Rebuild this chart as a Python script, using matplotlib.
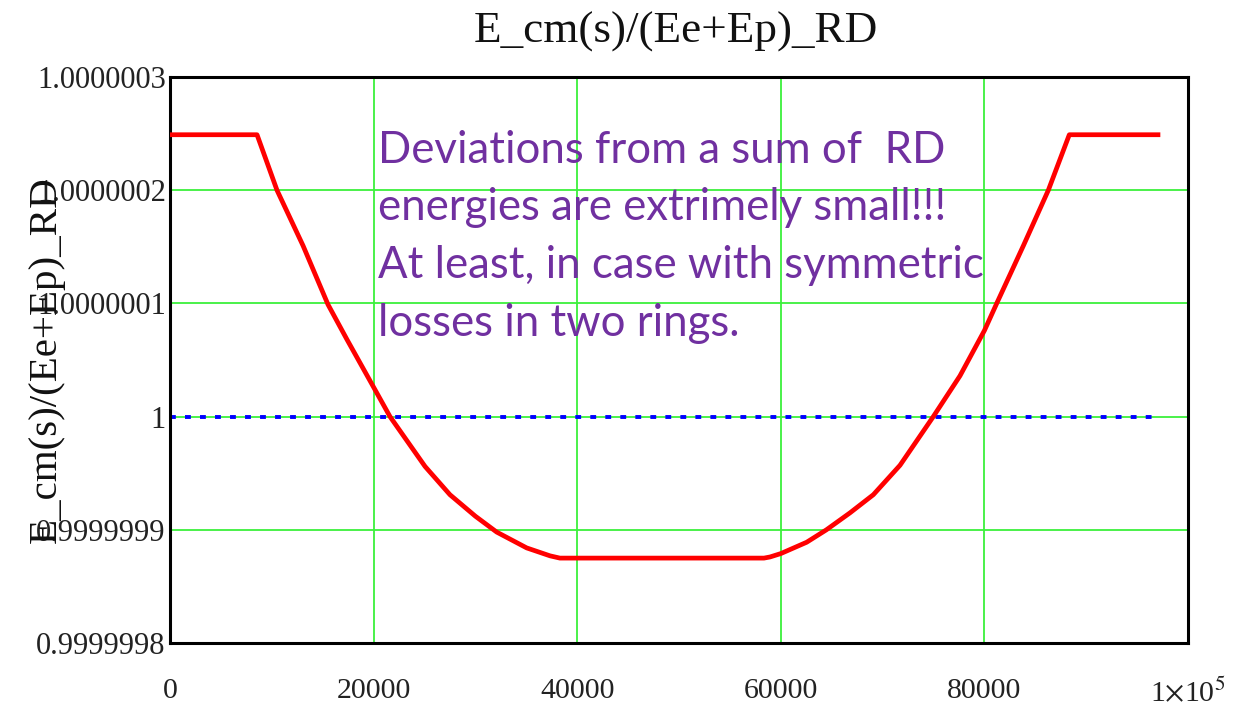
import matplotlib
matplotlib.use("Agg")
import matplotlib.pyplot as plt

# s [m] and deviation of E_cm/(Ee+Ep) from 1, in units of 1e-7
s_pos = [0, 8550, 10510, 13070, 15520, 17390, 20000, 21610, 25050, 27500,
         30000, 32090, 35040, 37330, 38300, 58350, 58940, 60000, 62540,
         64480, 66800, 69090, 71710, 74980, 77600, 80000, 81210, 83830,
         86280, 88340, 97050]
ratio_dev = [2.49, 2.49, 2.0, 1.51, 0.99, 0.68, 0.26, 0.0, -0.44, -0.69,
             -0.88, -1.02, -1.16, -1.23, -1.25, -1.25, -1.24, -1.21, -1.11,
             -1.0, -0.85, -0.69, -0.43, 0.0, 0.36, 0.76, 1.0, 1.51,
             2.0, 2.49, 2.49]
ref_x = [0, 96600]
ref_dev = [0, 0]

x_ticks = [0, 20000, 40000, 60000, 80000, 100000]
x_labels = ["0", "20000", "40000", "60000", "80000", r"1$\times$10$^{5}$"]
y_ticks = [-2, -1, 0, 1, 2, 3]
y_labels = ["0.9999998", "0.9999999", "1", "1.0000001", "1.0000002", "1.0000003"]

note_lines = ["Deviations from a sum of  RD",
              "energies are extrimely small!!!",
              "At least, in case with symmetric",
              "losses in two rings."]

plt.rcParams["font.family"] = ["Liberation Serif", "DejaVu Serif"]
plt.rcParams["mathtext.fontset"] = "stix"

W, H = 1248, 710
fig = plt.figure(figsize=(W / 100, H / 100), dpi=100)
ax = fig.add_axes([170 / W, 1 - 643 / H, 1018 / W, 566 / H])

grid_green = "#3cf03c"
for gx in x_ticks[1:-1]:
    ax.axvline(gx, color=grid_green, lw=1.3, zorder=1)
for gy in y_ticks[1:-1]:
    ax.axhline(gy, color=grid_green, lw=1.3, zorder=1)

ax.plot(s_pos, ratio_dev, color="red", lw=3.4, zorder=3)
blue, = ax.plot(ref_x, ref_dev, color="blue", lw=2.8, zorder=2)
blue.set_dashes([1.5, 2.36])

ax.set_xlim(0, 100000)
ax.set_ylim(-2, 3)
ax.set_xticks(x_ticks)
ax.set_xticklabels(x_labels)
ax.set_yticks(y_ticks)
ax.set_yticklabels(y_labels)
ax.tick_params(axis="x", length=0, pad=25, labelsize=21.5, colors="#222222")
ax.tick_params(axis="y", length=0, pad=3, labelsize=22, colors="#222222")
for sp in ax.spines.values():
    sp.set_linewidth(2.2)
    sp.set_color("black")

fig.text(676 / W, 1 - 32 / H, "E_cm(s)/(Ee+Ep)_RD", fontsize=32.5,
         ha="center", va="center", color="#111111")
fig.text(46 / W, 1 - 360 / H, "E_cm(s)/(Ee+Ep)_RD", fontsize=29.5,
         rotation=90, ha="center", va="center", color="#111111")

baselines = [163, 220, 278, 336]
for line, by in zip(note_lines, baselines):
    fig.text(378 / W, 1 - by / H, line, fontsize=31.5, family="Lato",
             color="#7030a0", ha="left", va="baseline")

fig.savefig("out.png", dpi=100)
